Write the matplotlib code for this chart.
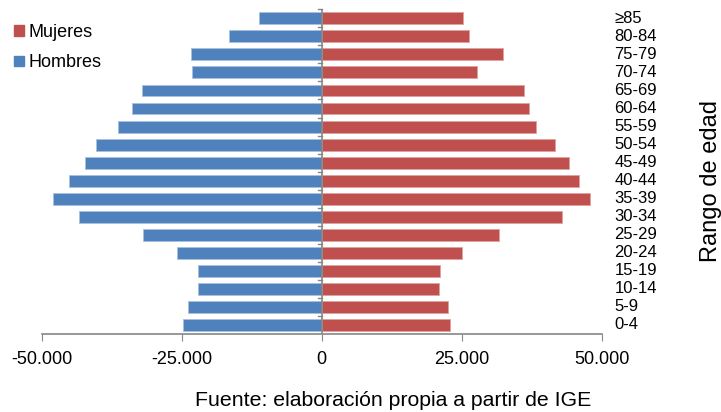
import numpy as np
import matplotlib
matplotlib.use("Agg")
import matplotlib.pyplot as plt
from matplotlib.ticker import FuncFormatter
from matplotlib.patches import Patch

plt.rcParams['font.family'] = ['Liberation Sans', 'DejaVu Sans']

# grupos de edad, de abajo hacia arriba
edades = ['0-4', '5-9', '10-14', '15-19', '20-24', '25-29', '30-34', '35-39',
          '40-44', '45-49', '50-54', '55-59', '60-64', '65-69', '70-74',
          '75-79', '80-84', '≥85']
hombres = [24700, 23800, 22000, 22100, 25800, 31900, 43300, 48000, 45200,
           42300, 40300, 36300, 33900, 32000, 23200, 23400, 16500, 11200]
mujeres = [22900, 22600, 20900, 21200, 25100, 31600, 42900, 47900, 45900,
           44200, 41600, 38300, 37000, 36200, 27800, 32300, 26300, 25300]
xticks = [-50000, -25000, 0, 25000, 50000]

rojo = '#C0504D'
azul = '#4F81BD'
gris = '#868686'

fig = plt.figure(figsize=(7.21, 4.12), dpi=100)
ax = fig.add_axes([41.7 / 721, 1 - 334 / 412, 560 / 721, (334 - 9.3) / 412])

y = np.arange(len(edades))
ax.barh(y, -np.array(hombres), height=0.66, color=azul, edgecolor='#a9c0de', linewidth=0.6)
ax.barh(y, mujeres, height=0.66, color=rojo, edgecolor='#dca3a1', linewidth=0.6)

ax.set_xlim(-50000, 50000)
ax.set_ylim(-0.5, len(edades) - 0.5)
ax.set_xticks(xticks)
ax.xaxis.set_major_formatter(FuncFormatter(lambda v, p: '{:,.0f}'.format(v).replace(',', '.')))
ax.tick_params(axis='x', direction='out', length=5, color=gris, labelsize=13, pad=7)

for s in ['top', 'right', 'left']:
    ax.spines[s].set_visible(False)
ax.spines['bottom'].set_color(gris)
ax.spines['bottom'].set_linewidth(1.2)

# eje vertical en x=0 con marcas entre categorías
ax.axvline(0, color=gris, linewidth=1.2, zorder=3)
for b in np.arange(-0.5, len(edades), 1.0)[1:]:
    ax.plot([-600, 0], [b, b], color=gris, linewidth=1.0, zorder=3, clip_on=False)
ax.set_yticks([])

for yi, lab in zip(y, edades):
    ax.text(1.023, yi, lab, transform=ax.get_yaxis_transform(), fontsize=12,
            va='center', ha='left')

fig.text(711 / 721, 1 - 181 / 412, 'Rango de edad', rotation=90, fontsize=17,
         ha='center', va='center')
fig.text(393.5 / 721, 1 - 406 / 412, 'Fuente: elaboración propia a partir de IGE',
         fontsize=15.3, ha='center', va='baseline')

handles = [Patch(color=rojo, label='Mujeres'), Patch(color=azul, label='Hombres')]
fig.legend(handles=handles, loc='upper left', bbox_to_anchor=(0.0, 0.978),
           frameon=False, fontsize=13, handlelength=0.55, handleheight=0.55,
           handletextpad=0.25, labelspacing=0.77, borderpad=0.3)

fig.savefig('out.png', dpi=100)
